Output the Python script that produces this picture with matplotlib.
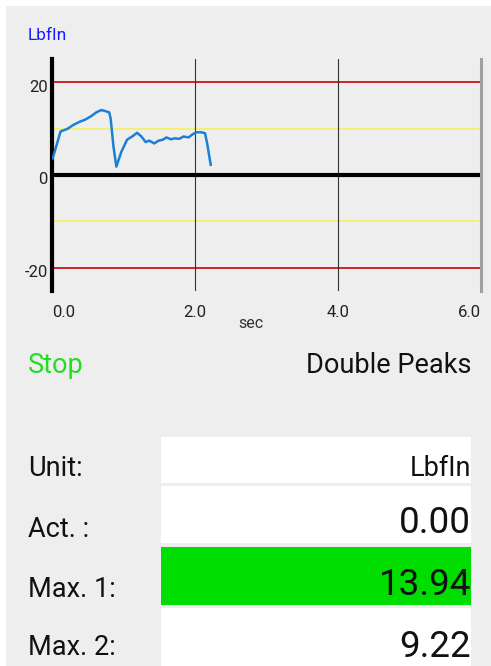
import matplotlib
matplotlib.use("Agg")
import matplotlib.pyplot as plt
import matplotlib.transforms as mtransforms
from matplotlib.patches import Rectangle

plt.rcParams["font.family"] = ["Roboto", "DejaVu Sans"]

# data
time_s = [0.01, 0.12, 0.21, 0.30, 0.39, 0.46, 0.55, 0.62, 0.69, 0.74, 0.80, 0.82,
          0.86, 0.90, 0.97, 1.05, 1.13, 1.19, 1.25, 1.31, 1.36, 1.43, 1.49, 1.55,
          1.60, 1.66, 1.72, 1.78, 1.84, 1.91, 1.97, 2.02, 2.09, 2.14, 2.17, 2.22]
torque = [3.6, 9.4, 9.9, 10.8, 11.5, 11.9, 12.7, 13.5, 14.0, 13.8, 13.5, 12.2,
          6.1, 1.8, 5.0, 7.6, 8.4, 9.1, 8.3, 7.1, 7.4, 6.8, 7.4, 7.6,
          8.1, 7.7, 7.9, 7.8, 8.3, 8.1, 8.8, 9.2, 9.2, 9.0, 6.8, 2.2]
limit_red = [20, -20]
limit_yellow = [10, -10]
x_ticks = [0, 2, 4, 6]
x_tick_labels = ["0.0", "2.0", "4.0", "6.0"]
y_ticks = [-20, 0, 20]

unit = "LbfIn"
status = "Stop"
mode = "Double Peaks"
row_labels = ["Unit:", "Act. :", "Max. 1:", "Max. 2:"]
row_values = ["LbfIn", "0.00", "13.94", "9.22"]

W, H = 491, 666
fig = plt.figure(figsize=(W / 100, H / 100), dpi=100)
fig.patch.set_facecolor("white")


def fx(x):
    return x / W


def fy(y):
    return 1 - y / H


# grey app panel
fig.add_artist(Rectangle((fx(6), 0), 1 - fx(6), fy(6), transform=fig.transFigure,
                         facecolor="#eeeeee", edgecolor="none", zorder=0))

# chart
ax = fig.add_axes([fx(52), fy(291), fx(481) - fx(52), fy(59) - fy(291)])
ax.set_facecolor("none")
ax.set_xlim(0, 6)
ax.set_ylim(-25, 25)
for s in ["top", "bottom"]:
    ax.spines[s].set_visible(False)
ax.spines["left"].set_linewidth(3)
ax.spines["left"].set_color("black")
ax.spines["right"].set_linewidth(2.2)
ax.spines["right"].set_color("#a0a0a0")

for v in limit_red:
    ax.axhline(v, color="#cc0000", lw=1.2, zorder=1)
for v in limit_yellow:
    ax.axhline(v, color="#f5f060", lw=1.2, zorder=1)
for t in x_ticks[1:-1]:
    ax.axvline(t, color="#333333", lw=0.8, zorder=1)
ax.axhline(0, color="black", lw=3, zorder=2)

ax.plot(time_s, torque, color="#1a80d6", lw=1.8, zorder=3)

ax.set_xticks(x_ticks, x_tick_labels)
ax.set_yticks(y_ticks, [str(v) for v in y_ticks])
ax.tick_params(length=0, labelsize=12, colors="#222222")
ax.tick_params(axis="y", pad=3)
ax.tick_params(axis="x", pad=10)
xl = ax.get_xticklabels()
xl[0].set_horizontalalignment("left")
xl[-1].set_horizontalalignment("right")
shift = mtransforms.ScaledTranslation(0, -0.035, fig.dpi_scale_trans)
for lab in ax.get_yticklabels():
    lab.set_transform(lab.get_transform() + shift)

fig.text(fx(251), fy(328), "sec", ha="center", va="baseline", fontsize=11.5, color="#333333")
fig.text(fx(28), fy(40), unit, ha="left", va="baseline", fontsize=12.5, color="#1a1aff")

# status line
fig.text(fx(28), fy(373), status, ha="left", va="baseline", fontsize=19.5, color="#22dd22")
fig.text(fx(472), fy(373), mode, ha="right", va="baseline", fontsize=19.5, color="#111111")

# value table
box_tops = [437, 486, 547, 608]
box_bottoms = [483, 543, 605, 670]
box_colors = ["white", "white", "#00dd00", "white"]
label_base = [476, 537, 597, 655]
value_base = [476, 533, 595, 657]
value_sizes = [19.5, 26.5, 26.5, 26.5]
for i in range(len(row_labels)):
    fig.add_artist(Rectangle((fx(161), fy(box_bottoms[i])), fx(471) - fx(161),
                             fy(box_tops[i]) - fy(box_bottoms[i]),
                             transform=fig.transFigure, facecolor=box_colors[i],
                             edgecolor="none", zorder=1))
    fig.text(fx(28), fy(label_base[i]), row_labels[i], ha="left", va="baseline",
             fontsize=19.5, color="#111111")
    fig.text(fx(471), fy(value_base[i]), row_values[i], ha="right", va="baseline",
             fontsize=value_sizes[i], color="#111111")

fig.savefig("out.png", dpi=100)
